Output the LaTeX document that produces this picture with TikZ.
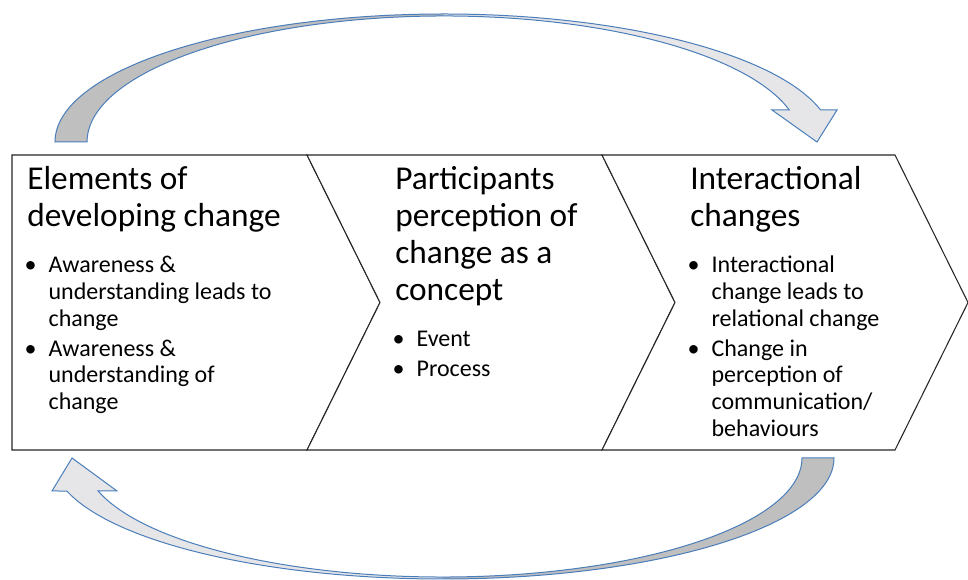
\documentclass[tikz,border=0pt]{standalone}
\usepackage{fontspec}
\setmainfont{Carlito}
\usepackage{enumitem}
\usetikzlibrary{positioning}

\definecolor{bandline}{RGB}{74,126,187}
\definecolor{bandback}{RGB}{191,191,191}
\definecolor{bandfront}{RGB}{230,230,232}

\newcommand{\bulletfont}{\fontsize{18}{20}\selectfont}

\begin{document}
\begin{tikzpicture}[
    x=0.75pt, y=-0.75pt,
    chevron/.style={
        draw=black!85,
        line width=0.8pt,
        line join=miter,
        fill=white
    },
    stage/.style={
        anchor=base west,
        inner sep=0pt,
        align=flush left,
        text width=215pt,
        font=\fontsize{25}{27.6}\selectfont
    },
    band/.style={
        draw=bandline,
        line width=0.75pt,
        line join=miter
    },
    topouter/.style={x radius=291.75pt, y radius=96pt},
    topinner/.style={x radius=267.75pt, y radius=94.5pt},
    botouter/.style={x radius=293.25pt, y radius=90.75pt},
    botinner/.style={x radius=269.25pt, y radius=89.25pt}
]
\useasboundingbox (0,0) rectangle (968,580);

% Chevrons
\draw[chevron] (12,155) -- (307,155) -- (380,302.5) -- (307,450) -- (12,450) -- cycle;
\draw[chevron] (307,155) -- (602,155) -- (675,302.5) -- (602,450) -- (307,450) -- (380,302.5) -- cycle;
\draw[chevron] (602,155) -- (895,155) -- (968,302.5) -- (895,450) -- (602,450) -- (675,302.5) -- cycle;

% Stage texts
\node[stage] (elements) at (27,190) {
    Elements of\\developing change\par
    \bulletfont
    \begin{itemize}[leftmargin=16pt, labelsep=9pt, topsep=14.5pt, partopsep=0pt, itemsep=2.5pt, parsep=0pt]
        \item Awareness \&\\understanding leads to\\change
        \item Awareness \&\\understanding of\\change
    \end{itemize}
};

\node[stage] (perception) at (395,190) {
    Participants\\perception of\\change as a\\concept\par
    \bulletfont
    \begin{itemize}[leftmargin=16pt, labelsep=9pt, topsep=14.5pt, partopsep=0pt, itemsep=2.5pt, parsep=0pt]
        \item Event
        \item Process
    \end{itemize}
};

\node[stage] (interaction) at (690,190) {
    Interactional\\changes\par
    \bulletfont
    \begin{itemize}[leftmargin=16pt, labelsep=9pt, topsep=14.5pt, partopsep=0pt, itemsep=2.5pt, parsep=0pt]
        \item Interactional\\change leads to\\relational change
        \item Change in\\perception of\\communication/\\behaviours
    \end{itemize}
};

% Top curved arrow
\fill[bandback] (55,142) arc[topouter, start angle=180, end angle=90]
    -- (444,16) arc[topinner, start angle=90, end angle=180] -- cycle;
\fill[bandfront] (444,14) arc[topouter, start angle=90, end angle=14.48]
    -- (837,110) -- (817,142) -- (772,110) -- (789.3,110)
    arc[topinner, start angle=14.71, end angle=90] -- cycle;
\draw[band] (55,142) arc[topouter, start angle=180, end angle=14.48]
    -- (837,110) -- (817,142) -- (772,110) -- (789.3,110)
    arc[topinner, start angle=14.71, end angle=180] -- cycle;

% Bottom curved arrow
\fill[bandback] (834,458) arc[botouter, start angle=0, end angle=-90]
    -- (443,577) arc[botinner, start angle=-90, end angle=0] -- cycle;
\fill[bandfront] (443,579) arc[botouter, start angle=-90, end angle=-164.17]
    -- (52,491) -- (72,458) -- (117,491) -- (98.1,491)
    arc[botinner, start angle=-163.9, end angle=-90] -- cycle;
\draw[band] (834,458) arc[botouter, start angle=0, end angle=-164.17]
    -- (52,491) -- (72,458) -- (117,491) -- (98.1,491)
    arc[botinner, start angle=-163.9, end angle=0] -- cycle;

\end{tikzpicture}
\end{document}
